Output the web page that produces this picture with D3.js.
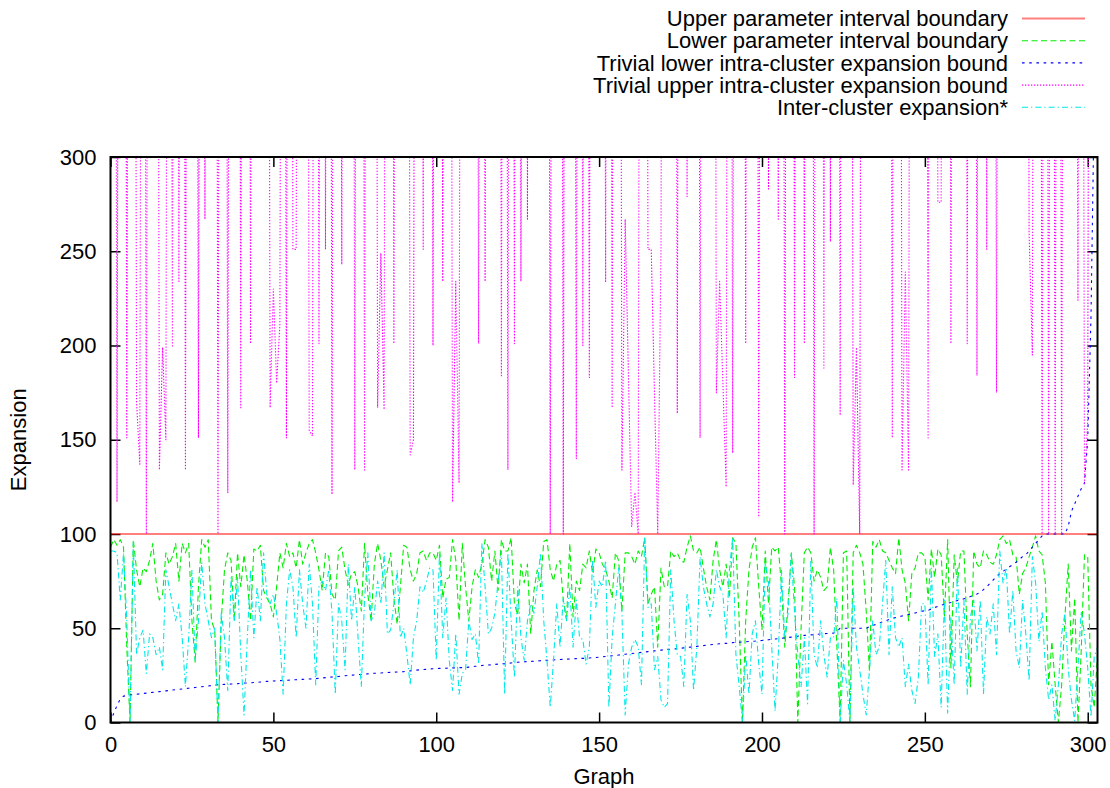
<!DOCTYPE html>
<html>
<head>
<meta charset="utf-8">
<script src="https://cdn.jsdelivr.net/npm/d3@7"></script>
<style>
  body { margin: 0; background: #fff; }
  svg text { font-family: "Liberation Sans", Arial, Helvetica, sans-serif; fill: #000; }
</style>
</head>
<body>
<svg id="chart" width="1110" height="788"></svg>
<script>
// Graph indices along the x axis (one sample per graph)
const graphCount = 304;

// Upper parameter interval boundary (constant)
const upperBoundary = 100;

// Lower parameter interval boundary
const lowerBoundary = [
  93, 97, 94, 97, 93, 40, 0, 97, 81, 72,
  82, 80, 86, 95, 75, 65, 68, 90, 84, 88,
  95, 75, 95, 90, 95, 54, 32, 72, 97, 93,
  97, 54, 49, 0, 54, 81, 90, 86, 54, 90,
  72, 89, 75, 54, 92, 91, 94, 70, 66, 63,
  56, 72, 90, 82, 95, 88, 90, 82, 97, 84,
  90, 95, 97, 90, 81, 70, 90, 88, 68, 65,
  91, 93, 81, 73, 79, 80, 72, 59, 95, 68,
  54, 84, 95, 86, 72, 81, 90, 66, 52, 72,
  94, 93, 81, 75, 79, 90, 91, 86, 90, 90,
  86, 94, 66, 76, 77, 97, 86, 54, 95, 72,
  54, 72, 81, 77, 84, 97, 93, 75, 91, 70,
  97, 91, 91, 98, 63, 57, 84, 74, 84, 47,
  70, 81, 72, 96, 97, 81, 75, 84, 86, 65,
  54, 95, 56, 75, 70, 84, 82, 91, 79, 92,
  90, 84, 81, 75, 66, 90, 86, 59, 90, 90,
  88, 84, 91, 88, 98, 63, 68, 72, 40, 82,
  72, 72, 91, 88, 90, 86, 85, 93, 99, 91,
  90, 93, 82, 72, 65, 86, 97, 81, 72, 84,
  66, 98, 95, 54, 0, 54, 81, 93, 98, 72,
  49, 91, 63, 93, 91, 93, 72, 40, 63, 90,
  72, 0, 50, 90, 93, 90, 75, 81, 77, 70,
  72, 93, 81, 40, 0, 90, 91, 0, 90, 94,
  90, 84, 59, 27, 96, 93, 97, 91, 90, 86,
  82, 79, 98, 81, 74, 54, 79, 82, 90, 90,
  88, 65, 92, 77, 92, 89, 56, 97, 29, 89,
  74, 91, 91, 47, 19, 91, 84, 82, 91, 89,
  85, 84, 89, 97, 99, 95, 97, 89, 88, 68,
  79, 82, 88, 93, 99, 91, 89, 74, 20, 43,
  20, 0, 20, 56, 84, 38, 66, 0, 38, 89,
  88, 20, 8, 36
];

// Trivial lower intra-cluster expansion bound
const trivialLower = [
  0, 5, 9, 12.5, 14, 14.3, 14.6, 14.8, 15, 15.2,
  15.4, 15.6, 15.8, 16, 16.2, 16.4, 16.6, 16.8, 17, 17.2,
  17.4, 17.6, 17.8, 18, 18.2, 18.4, 18.6, 18.8, 19, 19.2,
  19.4, 19.6, 19.8, 20, 20.1, 20.2, 20.3, 20.4, 20.5, 20.6,
  20.8, 20.9, 21, 21.1, 21.2, 21.3, 21.5, 21.6, 21.8, 21.9,
  22, 22.1, 22.2, 22.3, 22.4, 22.5, 22.6, 22.7, 22.8, 22.9,
  23, 23.1, 23.2, 23.3, 23.4, 23.6, 23.8, 24, 24.1, 24.2,
  24.4, 24.6, 24.8, 25, 25.1, 25.2, 25.4, 25.5, 25.6, 25.8,
  26, 26.1, 26.2, 26.3, 26.4, 26.5, 26.6, 26.7, 26.8, 26.9,
  27, 27.2, 27.4, 27.6, 27.8, 28, 28.1, 28.2, 28.4, 28.5,
  28.6, 28.7, 28.8, 28.8, 28.9, 29, 29, 29.1, 29.1, 29.2,
  29.4, 29.6, 29.8, 30, 30.2, 30.4, 30.5, 30.6, 30.8, 31,
  31.1, 31.2, 31.4, 31.6, 31.8, 32, 32.1, 32.2, 32.3, 32.4,
  32.5, 32.6, 32.8, 32.9, 33, 33.1, 33.2, 33.3, 33.4, 33.5,
  33.6, 33.7, 33.8, 33.9, 34, 34, 34.1, 34.2, 34.4, 34.5,
  34.6, 34.8, 35, 35.2, 35.4, 35.6, 35.8, 36, 36.2, 36.4,
  36.6, 36.8, 37, 37.2, 37.4, 37.6, 37.8, 38, 38.2, 38.4,
  38.6, 38.8, 38.9, 39, 39.2, 39.4, 39.6, 39.8, 40, 40.2,
  40.4, 40.6, 40.8, 41, 41.2, 41.4, 41.6, 41.8, 41.9, 42,
  42.2, 42.4, 42.5, 42.6, 42.7, 42.8, 43, 43.1, 43.2, 43.4,
  43.5, 43.7, 43.9, 44.1, 44.3, 44.5, 44.7, 44.9, 45.1, 45.3,
  45.5, 45.8, 46, 46.2, 46.4, 46.5, 46.6, 46.8, 47, 47.1,
  47.2, 47.3, 47.4, 48.5, 50, 50, 50, 50, 50, 50,
  50, 50, 50, 50.8, 51.5, 52, 52.8, 53.4, 54, 54.6,
  55.2, 55.7, 56.1, 56.5, 56.9, 57.3, 57.7, 58.1, 58.5, 59,
  59.3, 59.5, 60.2, 61, 61.6, 62.2, 62.7, 63.2, 63.7, 64.3,
  64.7, 65, 65.6, 66.2, 66.8, 67.5, 68.2, 69, 70.5, 72,
  73.8, 75.6, 77.4, 79, 80.2, 81.4, 82.6, 83.8, 85, 86.5,
  88, 89, 91, 93, 95, 97, 99, 100, 100, 100,
  100, 100, 100, 100, 104, 112, 116, 120, 124, 127,
  150, 215, 330, 600
];

// Trivial upper intra-cluster expansion bound (most values lie far above the plotted range)
const trivialUpper = [
  1000, 1000, 117, 1000, 1000, 151, 1000, 1000, 170, 137,
  1000, 100, 1000, 1000, 1000, 134, 199, 150, 1000, 199,
  1000, 234, 1000, 134, 1000, 1000, 1000, 151, 1000, 267,
  1000, 1000, 1000, 100, 1000, 1000, 122, 1000, 1000, 1000,
  167, 1000, 1000, 201, 1000, 1000, 1000, 1000, 1000, 167,
  230, 180, 211, 1000, 151, 1000, 251, 251, 1000, 1000,
  1000, 155, 152, 1000, 201, 1000, 251, 1000, 121, 1000,
  1000, 243, 1000, 1000, 1000, 134, 1000, 1000, 134, 1000,
  1000, 1000, 167, 249, 166, 1000, 1000, 201, 1000, 1000,
  1000, 1000, 142, 150, 1000, 1000, 251, 1000, 1000, 200,
  1000, 1000, 234, 1000, 1000, 117, 234, 127, 1000, 1000,
  1000, 1000, 1000, 201, 1000, 234, 1000, 1000, 1000, 1000,
  184, 1000, 134, 1000, 201, 1000, 234, 1000, 267, 1000,
  1000, 1000, 1000, 1000, 1000, 100, 1000, 1000, 1000, 100,
  1000, 1000, 1000, 140, 1000, 200, 1000, 183, 1000, 1000,
  1000, 1000, 234, 1000, 167, 1000, 1000, 134, 267, 185,
  104, 122, 100, 1000, 1000, 251, 251, 175, 100, 251,
  1000, 1000, 1000, 1000, 164, 1000, 1000, 279, 1000, 1000,
  1000, 151, 1000, 1000, 1000, 1000, 175, 234, 180, 125,
  1000, 143, 1000, 1000, 1000, 201, 1000, 1000, 1000, 109,
  1000, 1000, 283, 1000, 1000, 267, 1000, 100, 1000, 1000,
  183, 1000, 1000, 201, 1000, 1000, 100, 1000, 1000, 188,
  1000, 255, 1000, 1000, 163, 1000, 1000, 1000, 126, 199,
  100, 1000, 1000, 1000, 1000, 1000, 1000, 1000, 1000, 1000,
  151, 1000, 1000, 134, 239, 134, 1000, 1000, 1000, 1000,
  1000, 151, 1000, 1000, 276, 276, 1000, 1000, 201, 1000,
  1000, 1000, 1000, 201, 1000, 1000, 184, 1000, 1000, 251,
  1000, 1000, 175, 1000, 1000, 1000, 1000, 1000, 1000, 1000,
  1000, 1000, 260, 195, 1000, 1000, 100, 1000, 100, 1000,
  100, 1000, 100, 1000, 1000, 1000, 1000, 224, 1000, 127,
  160, 1000, 1000, 1000
];

// Inter-cluster expansion*
const interCluster = [
  91, 91, 90, 65, 90, 54, 0, 96, 36, 45,
  49, 26, 47, 45, 36, 40, 28, 81, 72, 63,
  54, 63, 45, 19, 45, 81, 33, 54, 85, 63,
  54, 45, 50, 0, 58, 45, 17, 77, 54, 77,
  36, 4, 45, 81, 45, 72, 54, 90, 68, 63,
  68, 58, 44, 15, 63, 81, 72, 45, 81, 63,
  50, 84, 63, 20, 72, 75, 70, 81, 58, 15,
  63, 54, 28, 84, 54, 72, 45, 19, 66, 90,
  54, 58, 75, 63, 90, 47, 49, 63, 81, 45,
  50, 36, 20, 45, 54, 72, 69, 75, 82, 81,
  33, 90, 45, 66, 33, 17, 47, 15, 26, 28,
  54, 44, 47, 31, 95, 72, 47, 50, 58, 75,
  91, 15, 90, 54, 24, 72, 45, 33, 54, 63,
  58, 72, 90, 54, 33, 8, 33, 63, 40, 66,
  54, 72, 40, 65, 45, 44, 31, 40, 86, 61,
  75, 72, 86, 8, 45, 63, 82, 58, 4, 31,
  40, 44, 40, 20, 98, 61, 63, 28, 35, 12,
  8, 10, 81, 54, 36, 35, 19, 68, 54, 17,
  40, 88, 72, 63, 56, 63, 81, 72, 68, 45,
  81, 98, 36, 19, 0, 36, 15, 47, 54, 31,
  15, 85, 75, 40, 6, 36, 81, 45, 58, 90,
  58, 36, 19, 45, 10, 86, 36, 29, 54, 36,
  24, 45, 45, 66, 0, 33, 20, 0, 72, 40,
  28, 15, 4, 28, 54, 36, 40, 63, 86, 36,
  72, 45, 40, 45, 19, 31, 17, 10, 24, 63,
  63, 20, 82, 35, 47, 8, 65, 5, 56, 20,
  82, 29, 65, 15, 56, 65, 38, 65, 15, 56,
  47, 63, 36, 91, 74, 82, 47, 70, 38, 29,
  65, 47, 22, 88, 74, 43, 59, 29, 12, 20,
  1, 20, 47, 58, 29, 12, 1, 29, 59, 47,
  29, 3, 35, 40
];

const xTicks = [0, 50, 100, 150, 200, 250, 300];
const yTicks = [0, 50, 100, 150, 200, 250, 300];
const xLabel = "Graph";
const yLabel = "Expansion";

const seriesLabels = [
  "Upper parameter interval boundary",
  "Lower parameter interval boundary",
  "Trivial lower intra-cluster expansion bound",
  "Trivial upper intra-cluster expansion bound",
  "Inter-cluster expansion*"
];

// ---- layout ----
const frame = { left: 110.5, right: 1097.5, top: 157, bottom: 722.5 };
const fontSize = 22;

const x = d3.scaleLinear().domain([0, 303]).range([frame.left, frame.right]);
const y = d3.scaleLinear().domain([0, 300]).range([frame.bottom, frame.top]);

const svg = d3.select("#chart");

svg.append("defs").append("clipPath").attr("id", "plotClip")
  .append("rect")
  .attr("x", frame.left).attr("y", frame.top)
  .attr("width", frame.right - frame.left)
  .attr("height", frame.bottom - frame.top);

// ---- axes (gnuplot style: inward ticks, mirrored on all sides) ----
function styleAxis(g) {
  g.select(".domain").remove();
  g.selectAll(".tick line").attr("stroke", "#000").attr("stroke-width", 1.5);
  g.selectAll(".tick text")
    .attr("font-size", fontSize)
    .attr("font-family", '"Liberation Sans", Arial, sans-serif')
    .attr("fill", "#000");
}

svg.append("g")
  .attr("transform", `translate(0,${frame.bottom})`)
  .call(d3.axisBottom(x).tickValues(xTicks).tickSize(-10).tickPadding(14).tickFormat(d3.format("d")))
  .call(styleAxis);

svg.append("g")
  .attr("transform", `translate(0,${frame.top})`)
  .call(d3.axisTop(x).tickValues(xTicks).tickSize(-10).tickFormat(""))
  .call(styleAxis);

svg.append("g")
  .attr("transform", `translate(${frame.left},0)`)
  .call(d3.axisLeft(y).tickValues(yTicks).tickSize(-10).tickPadding(14).tickFormat(d3.format("d")))
  .call(styleAxis);

svg.append("g")
  .attr("transform", `translate(${frame.right},0)`)
  .call(d3.axisRight(y).tickValues(yTicks).tickSize(-10).tickFormat(""))
  .call(styleAxis);

// ---- series ----
const graphs = d3.range(graphCount);
const upperLine = graphs.map(() => upperBoundary);

const series = [
  { name: seriesLabels[0], values: upperLine,     color: "#ff0000", dash: null,          width: 2,   opacity: 0.5 },
  { name: seriesLabels[1], values: lowerBoundary, color: "#00ee00", dash: "6,3.5",       width: 1.1, opacity: 1 },
  { name: seriesLabels[2], values: trivialLower,  color: "#0000ff", dash: "2.6,4.6",     width: 1.1, opacity: 1 },
  { name: seriesLabels[3], values: trivialUpper,  color: "#ff00ff", dash: "1.3,1.7",     width: 1.1, opacity: 1 },
  { name: seriesLabels[4], values: interCluster,  color: "#00e8e8", dash: "6,3,1.3,3",   width: 1.1, opacity: 1 }
];

const line = d3.line()
  .x((d, i) => x(graphs[i]))
  .y(d => y(d));

const plot = svg.append("g").attr("clip-path", "url(#plotClip)");

series.forEach(s => {
  plot.append("path")
    .datum(s.values)
    .attr("d", line)
    .attr("fill", "none")
    .attr("stroke", s.color)
    .attr("stroke-width", s.width)
    .attr("stroke-opacity", s.opacity)
    .attr("stroke-dasharray", s.dash)
    .attr("stroke-linejoin", "round");
});

// ---- border ----
svg.append("rect")
  .attr("x", frame.left).attr("y", frame.top)
  .attr("width", frame.right - frame.left)
  .attr("height", frame.bottom - frame.top)
  .attr("fill", "none")
  .attr("stroke", "#000")
  .attr("stroke-width", 2);

// ---- axis titles ----
svg.append("text")
  .attr("x", (frame.left + frame.right) / 2)
  .attr("y", 784)
  .attr("text-anchor", "middle")
  .attr("font-size", fontSize)
  .text(xLabel);

svg.append("text")
  .attr("transform", `translate(26,${(frame.top + frame.bottom) / 2}) rotate(-90)`)
  .attr("text-anchor", "middle")
  .attr("font-size", fontSize)
  .text(yLabel);

// ---- legend (top right, outside the frame) ----
const legend = svg.append("g");
const legendY = d3.scaleLinear().domain([0, 1]).range([18.5, 40.7]);
series.forEach((s, i) => {
  const yy = legendY(i);
  legend.append("text")
    .attr("x", 1008)
    .attr("y", yy)
    .attr("dy", "0.35em")
    .attr("text-anchor", "end")
    .attr("font-size", fontSize)
    .text(s.name);
  legend.append("line")
    .attr("x1", 1022).attr("x2", 1085)
    .attr("y1", yy).attr("y2", yy)
    .attr("stroke", s.color)
    .attr("stroke-width", s.width)
    .attr("stroke-opacity", s.opacity)
    .attr("stroke-dasharray", s.dash);
});
</script>
</body>
</html>
